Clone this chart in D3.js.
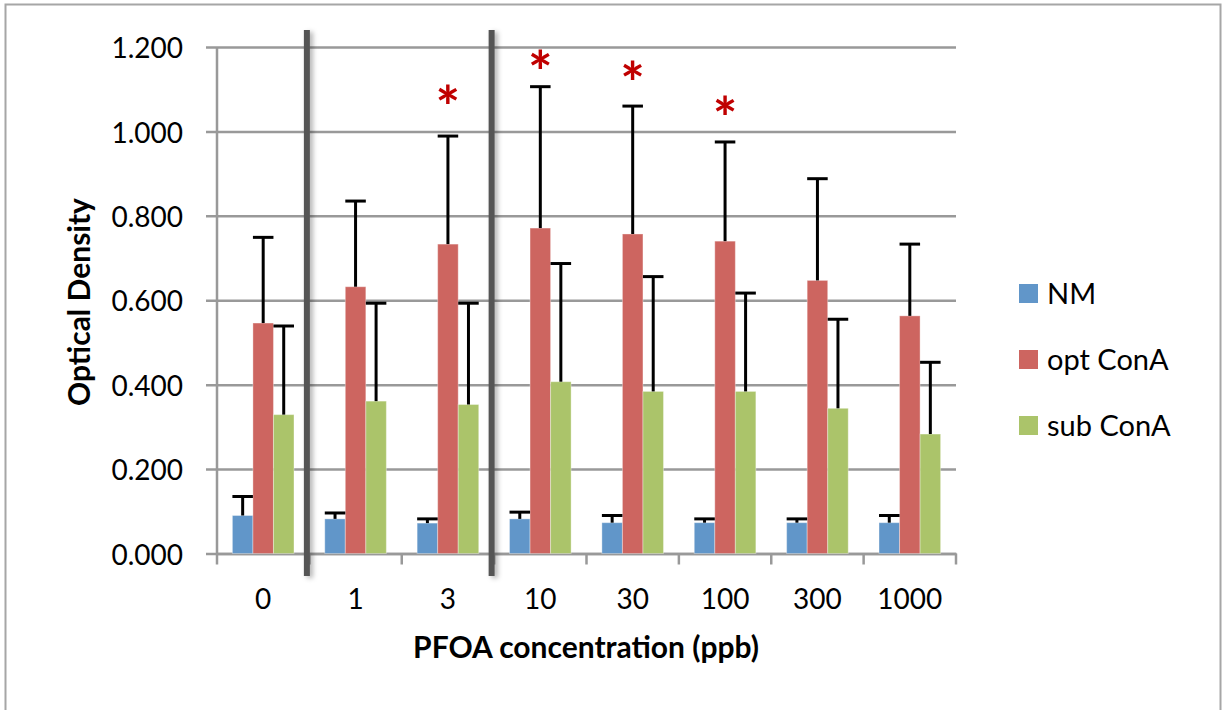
<!DOCTYPE html>
<html>
<head>
<meta charset="utf-8">
<script src="https://cdn.jsdelivr.net/npm/d3@7"></script>
<style>
  body { margin: 0; background: #fff; }
  text { font-family: Lato, "Open Sans", sans-serif; }
</style>
</head>
<body>
<script>
let w = 1222;
let h = 710;

// data
let categories = ["0", "1", "3", "10", "30", "100", "300", "1000"];
let seriesNames = ["NM", "opt ConA", "sub ConA"];
let nm = [0.090, 0.082, 0.072, 0.082, 0.073, 0.073, 0.073, 0.073];
let nmErr = [0.045, 0.014, 0.010, 0.016, 0.017, 0.009, 0.009, 0.017];
let opt = [0.546, 0.632, 0.733, 0.771, 0.757, 0.740, 0.647, 0.563];
let optErr = [0.203, 0.203, 0.256, 0.335, 0.303, 0.235, 0.241, 0.170];
let sub = [0.329, 0.361, 0.353, 0.407, 0.384, 0.384, 0.344, 0.283];
let subErr = [0.210, 0.232, 0.240, 0.280, 0.272, 0.233, 0.211, 0.170];
let yTicks = [0, 0.2, 0.4, 0.6, 0.8, 1.0, 1.2];
// significance marks (category, height in OD units)
let stars = [["3", 1.085], ["10", 1.168], ["30", 1.142], ["100", 1.060]];
// thick separators drawn after these categories
let splitAfter = ["0", "3"];

let colors = ["#6196c9", "#cd6560", "#abc46a"];
let values = [nm, opt, sub];
let errors = [nmErr, optErr, subErr];

let svg = d3.select("body")
    .append("svg")
    .attr("width", w)
    .attr("height", h);

// outer chart border
svg.append("rect")
    .attr("x", 5.5).attr("y", 4.5)
    .attr("width", 1215).attr("height", 720)
    .attr("fill", "none")
    .attr("stroke", "#a6a6a6")
    .attr("stroke-width", 2);

let x = d3.scaleBand()
    .domain(categories)
    .range([217, 956]);

let xInner = d3.scaleBand()
    .domain(seriesNames)
    .range([0, x.bandwidth()])
    .paddingOuter(0.75);  // gap width 150%

let y = d3.scaleLinear()
    .domain([0, 1.2])
    .range([553.5, 47]);

// gridlines + y axis
let yAxis = d3.axisLeft(y)
    .tickValues(yTicks)
    .tickFormat(d3.format(".3f"))
    .tickSize(-(956 - 206))
    .tickPadding(0);

let gy = svg.append("g")
    .attr("transform", "translate(206,0)")
    .call(yAxis);
gy.select(".domain").remove();
gy.selectAll(".tick line")
    .attr("stroke", "#999")
    .attr("stroke-width", 2.5);
gy.selectAll(".tick text")
    .attr("x", -23)
    .attr("dy", "0.38em")
    .attr("fill", "#000")
    .style("font-size", "28px");

svg.append("line")
    .attr("x1", 217).attr("x2", 217)
    .attr("y1", y(1.2)).attr("y2", y(0))
    .attr("stroke", "#999")
    .attr("stroke-width", 2.5);

// x axis
let gx = svg.append("g")
    .attr("transform", `translate(0,${y(0)})`)
    .call(d3.axisBottom(x).tickSize(0).tickPadding(0));
gx.select(".domain")
    .attr("stroke", "#999")
    .attr("stroke-width", 2.5);
gx.selectAll(".tick text")
    .attr("y", 55)
    .attr("dy", 0)
    .attr("fill", "#000")
    .style("font-size", "28px");

// category boundary ticks
let bounds = categories.map(c => x(c)).concat([x.range()[1]]);
svg.selectAll(".btick")
    .data(bounds)
    .enter()
    .append("line")
    .attr("x1", d => d).attr("x2", d => d)
    .attr("y1", y(0)).attr("y2", y(0) + 11)
    .attr("stroke", "#999")
    .attr("stroke-width", 2.5);

// bars
let rows = [];
categories.forEach((c, i) => {
    seriesNames.forEach((s, j) => {
        rows.push({ cat: c, s: s, j: j, v: values[j][i], e: errors[j][i] });
    });
});

svg.selectAll(".bar")
    .data(rows)
    .enter()
    .append("rect")
    .attr("x", d => x(d.cat) + xInner(d.s))
    .attr("y", d => y(d.v))
    .attr("width", xInner.bandwidth())
    .attr("height", d => y(0) - y(d.v))
    .attr("fill", d => colors[d.j])
    .attr("stroke", "rgba(255,255,255,0.35)")
    .attr("stroke-width", 1);

// error bars (upper only)
let eb = svg.selectAll(".err")
    .data(rows)
    .enter()
    .append("g")
    .attr("stroke", "#000")
    .attr("stroke-width", 3);
eb.append("line")
    .attr("x1", d => x(d.cat) + xInner(d.s) + xInner.bandwidth() / 2)
    .attr("x2", d => x(d.cat) + xInner(d.s) + xInner.bandwidth() / 2)
    .attr("y1", d => y(d.v))
    .attr("y2", d => y(d.v + d.e));
eb.append("line")
    .attr("x1", d => x(d.cat) + xInner(d.s))
    .attr("x2", d => x(d.cat) + xInner(d.s) + xInner.bandwidth())
    .attr("y1", d => y(d.v + d.e))
    .attr("y2", d => y(d.v + d.e));

// separators with a soft shadow
let defs = svg.append("defs");
let f = defs.append("filter").attr("id", "shadow")
    .attr("filterUnits", "userSpaceOnUse")
    .attr("x", 0).attr("y", 0)
    .attr("width", w).attr("height", h);
f.append("feDropShadow")
    .attr("dx", 3).attr("dy", 2)
    .attr("stdDeviation", 2.5)
    .attr("flood-color", "#000")
    .attr("flood-opacity", 0.3);

svg.selectAll(".sep")
    .data(splitAfter)
    .enter()
    .append("rect")
    .attr("x", d => x(d) + x.bandwidth() - 2.5 - 3)
    .attr("y", 30)
    .attr("width", 6)
    .attr("height", 546)
    .attr("fill", "#555")
    .attr("filter", "url(#shadow)");

// asterisks over opt ConA bars
let starSize = 58;
svg.selectAll(".star")
    .data(stars)
    .enter()
    .append("text")
    .attr("x", d => x(d[0]) + xInner("opt ConA") + xInner.bandwidth() / 2)
    .attr("y", d => y(d[1]) + starSize * 0.56)
    .attr("text-anchor", "middle")
    .attr("fill", "#c00000")
    .style("font-size", starSize + "px")
    .style("font-weight", "bold")
    .text("*");

// axis titles
svg.append("text")
    .attr("x", 586)
    .attr("y", 658)
    .attr("text-anchor", "middle")
    .style("font-size", "30px")
    .style("font-weight", "bold")
    .text("PFOA concentration (ppb)");

svg.append("text")
    .attr("transform", "translate(90,302) rotate(-90)")
    .attr("text-anchor", "middle")
    .style("font-size", "30px")
    .style("font-weight", "bold")
    .text("Optical Density");

// legend
let lg = svg.selectAll(".legend")
    .data(seriesNames)
    .enter()
    .append("g")
    .attr("transform", (d, i) => `translate(1019,${284 + i * 66})`);
lg.append("rect")
    .attr("width", 19).attr("height", 19)
    .attr("fill", (d, i) => colors[i]);
lg.append("text")
    .attr("x", 28)
    .attr("y", 9.5)
    .attr("dy", "0.36em")
    .style("font-size", "29px")
    .text(d => d);
</script>
</body>
</html>
